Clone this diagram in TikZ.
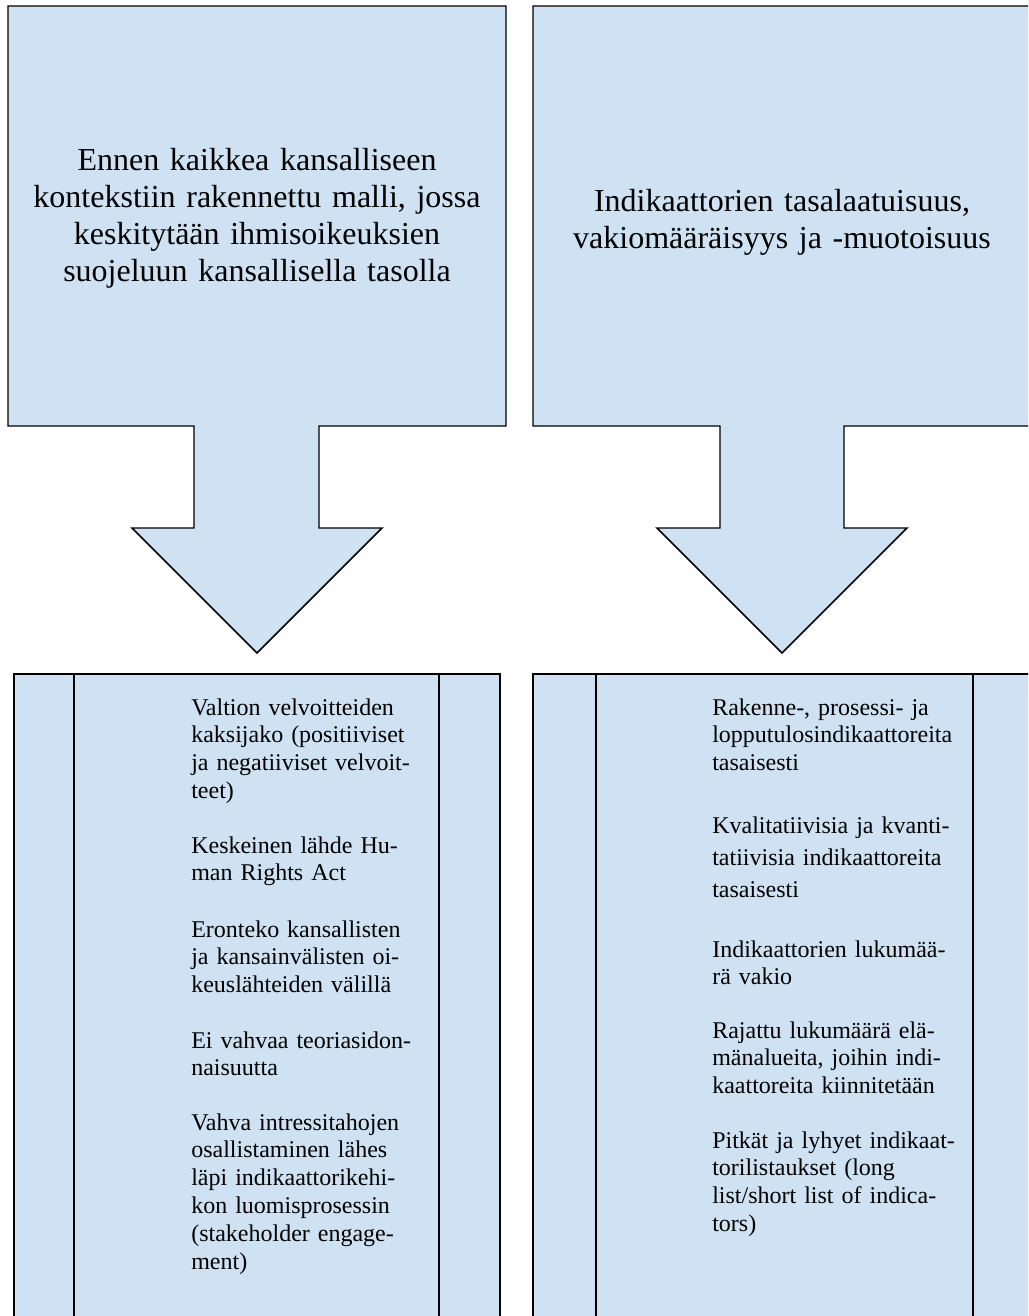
\documentclass[tikz,border=0pt]{standalone}
\usepackage{fontspec}
\setmainfont{Liberation Serif}
\usepackage{xcolor}
\definecolor{calloutblue}{RGB}{207,226,243}

\begin{document}
\begin{tikzpicture}[x=0.75pt, y=-0.75pt,
    blueform/.style={draw=black, fill=calloutblue, line width=1.1pt},
    headtext/.style={align=center, text width=340pt, anchor=base, font=\fontsize{24}{27.6}\selectfont},
    itemtext/.style={align=left, text width=190pt, inner xsep=0pt, anchor=base west, font=\fontsize{18}{20.85}\selectfont}]

        \clip (0,0) rectangle (1028,1316);

        % Callouts
        \draw[blueform] (8,6) -| (506,426) -| (319,528) -- (382,528) -- (257,653)
            -- (132,528) -| (194,426) -- (8,426) -- cycle;
        \draw[blueform] (533,6) -| (1031,426) -| (844,528) -- (907,528) -- (782,653)
            -- (657,528) -| (720,426) -- (533,426) -- cycle;

        % Boxes
        \draw[blueform] (14,674) rectangle (500,1330);
        \draw[line width=1.1pt] (74,674) -- (74,1330) (439,674) -- (439,1330);
        \draw[blueform] (533,674) rectangle (1034,1330);
        \draw[line width=1.1pt] (596,674) -- (596,1330) (973,674) -- (973,1330);

        % Nodes
        \node[headtext] (lefthead) at (257,171) {Ennen kaikkea kansalliseen\\kontekstiin rakennettu malli, jossa\\keskitytään ihmisoikeuksien\\suojeluun kansallisella tasolla};
        \node[headtext] (righthead) at (782,212) {Indikaattorien tasalaatuisuus,\\vakiomääräisyys ja -muotoisuus};

        \node[itemtext] (left1) at (191,715) {Valtion velvoitteiden\\kaksijako (positiiviset\\ja negatiiviset velvoit-\\teet)};
        \node[itemtext] (left2) at (191,853) {Keskeinen lähde Hu-\\man Rights Act};
        \node[itemtext] (left3) at (191,937) {Eronteko kansallisten\\ja kansainvälisten oi-\\keuslähteiden välillä};
        \node[itemtext] (left4) at (191,1048) {Ei vahvaa teoriasidon-\\naisuutta};
        \node[itemtext] (left5) at (191,1130) {Vahva intressitahojen\\osallistaminen lähes\\läpi indikaattorikehi-\\kon luomisprosessin\\(stakeholder engage-\\ment)};

        \node[itemtext] (right1) at (712,715) {Rakenne-, prosessi- ja\\lopputulosindikaattoreita\\tasaisesti};
        \node[itemtext, font=\fontsize{18}{24}\selectfont] (right2) at (712,833) {Kvalitatiivisia ja kvanti-\\tatiivisia indikaattoreita\\tasaisesti};
        \node[itemtext] (right3) at (712,957) {Indikaattorien lukumää-\\rä vakio};
        \node[itemtext] (right4) at (712,1038) {Rajattu lukumäärä elä-\\mänalueita, joihin indi-\\kaattoreita kiinnitetään};
        \node[itemtext] (right5) at (712,1148) {Pitkät ja lyhyet indikaat-\\torilistaukset (long\\list/short list of indica-\\tors)};

      \end{tikzpicture}
\end{document}
